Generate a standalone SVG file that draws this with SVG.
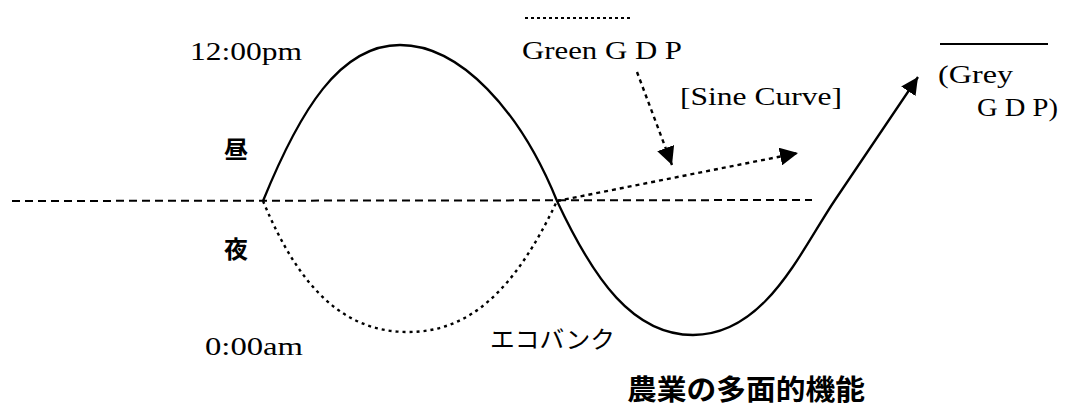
<svg xmlns="http://www.w3.org/2000/svg" width="1065" height="406" viewBox="0 0 1065 406">
<style>
.serif{font-family:"Liberation Serif","DejaVu Serif",serif;font-size:26px;fill:#000}
.jp{font-family:"Noto Sans CJK JP","Noto Sans CJK SC",sans-serif;fill:#000}
.solid{fill:none;stroke:#000;stroke-width:2.3}
.axis{fill:none;stroke:#000;stroke-width:2;stroke-dasharray:8 5}
.dot{fill:none;stroke:#000;stroke-width:2.4;stroke-dasharray:3 4}
.darrow{fill:none;stroke:#000;stroke-width:2.4;stroke-dasharray:4 4}
</style>
<defs>
<marker id="ah" viewBox="0 0 10 10" refX="10" refY="5" markerWidth="7.5" markerHeight="7.5" orient="auto" markerUnits="strokeWidth">
<path d="M0,0 L10,5 L0,10 Z" fill="#000"/>
</marker>
<marker id="ah2" viewBox="0 0 10 10" refX="10" refY="5" markerWidth="7.5" markerHeight="7.5" orient="auto" markerUnits="strokeWidth">
<path d="M0,0 L10,5 L0,10 Z" fill="#000"/>
</marker>
</defs>
<rect width="1065" height="406" fill="#fff"/>
<g id="connectors">
<line class="axis" x1="12" y1="201" x2="812" y2="200"/>
<path id="sine" class="solid" marker-end="url(#ah)" d="M263,201 C300,110 340,45 400,45 C460,45 520,110 557,201 C594,280 633,335 693,335 C765,335 800,252 835,200 L918,77"/>
<path id="night" class="dot" d="M263,201 C300,290 345,332 408,332 C470,332 515,290 557,201"/>
<line class="darrow" x1="557" y1="201" x2="798" y2="153" marker-end="url(#ah2)"/>
<line class="darrow" x1="637" y1="72" x2="672" y2="165" marker-end="url(#ah2)"/>
<line x1="525" y1="18" x2="632" y2="18" stroke="#000" stroke-width="1.8" stroke-dasharray="3 3"/>
<line x1="940" y1="44" x2="1048" y2="44" stroke="#000" stroke-width="2"/>
</g>
<g id="label-noon"><text class="serif" x="190" y="60" textLength="112" lengthAdjust="spacingAndGlyphs">12:00pm</text></g>
<g id="label-midnight"><text class="serif" x="205" y="355" textLength="98" lengthAdjust="spacingAndGlyphs">0:00am</text></g>
<g id="label-day"><text class="jp" x="224" y="158" font-size="24" font-weight="bold">昼</text></g>
<g id="label-night"><text class="jp" x="224" y="258" font-size="24" font-weight="bold">夜</text></g>
<g id="label-ecobank"><text class="jp" x="490" y="348" font-size="24" textLength="125" lengthAdjust="spacingAndGlyphs">エコバンク</text></g>
<g id="label-title"><text class="jp" x="627" y="400" font-size="28" font-weight="bold" textLength="238" lengthAdjust="spacingAndGlyphs">農業の多面的機能</text></g>
<g id="label-green"><text class="serif" x="522" y="59" textLength="160" lengthAdjust="spacingAndGlyphs">Green G D P</text></g>
<g id="label-sine"><text class="serif" x="680" y="105" textLength="162" lengthAdjust="spacingAndGlyphs">[Sine Curve]</text></g>
<g id="label-grey">
<text class="serif" x="938" y="83" textLength="75" lengthAdjust="spacingAndGlyphs">(Grey</text>
<text class="serif" x="977" y="116" textLength="81" lengthAdjust="spacingAndGlyphs">G D P)</text>
</g>
</svg>
